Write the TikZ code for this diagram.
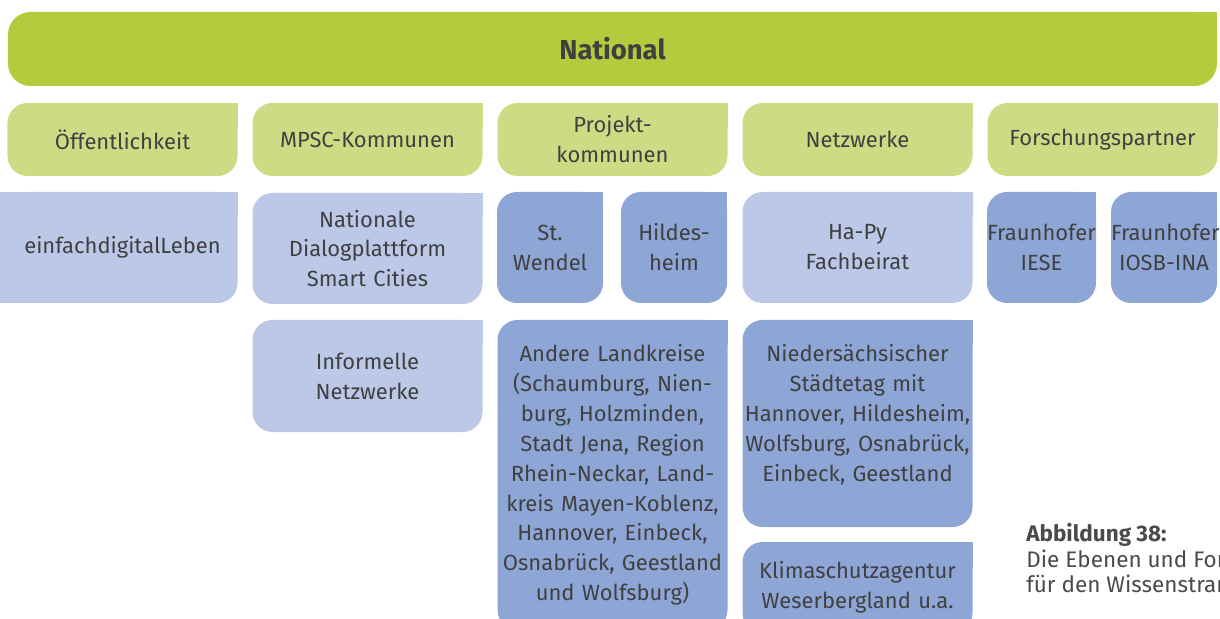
\documentclass[tikz,border=0pt]{standalone}
\usepackage{fontspec}
\setmainfont{Fira Sans}
\usetikzlibrary{positioning,backgrounds}
\definecolor{natgreen}{HTML}{B3CB3C}
\definecolor{lgreen}{HTML}{CCDC84}
\definecolor{lblue}{HTML}{BBC8E7}
\definecolor{dblue}{HTML}{8DA6D6}
\definecolor{txt}{HTML}{404040}
\definecolor{captxt}{HTML}{4A4A4A}

\begin{document}
\begin{tikzpicture}[
  x=0.2mm, y=-0.2mm,
  font=\fontsize{12.5}{17}\selectfont, text=txt,
  natbar/.style={fill=natgreen, rounded corners=4.5mm, minimum width=241.8mm, minimum height=14.8mm, inner sep=0pt, font=\bfseries\fontsize{15.6}{19}\selectfont},
  hbox/.style={fill=lgreen, rounded corners=4mm, minimum width=46mm, minimum height=14.6mm, text width=44mm, align=center, inner sep=0pt},
  lbox/.style={fill=lblue, rounded corners=4mm, minimum width=46mm, minimum height=22.2mm, text width=44mm, align=center, inner sep=0pt},
  dbox/.style={lbox, fill=dblue}
]
  \useasboundingbox (0,0) rectangle (1220,619);
  \clip (0,0) rectangle (1220,619);

  % TOP: National
  \node[natbar] (nat) at (612.5,49) {National};

  % ROW 1: Ebenen
  \node[hbox] (oeff) at (122.5,139.5) {Öffentlichkeit};
  \node[hbox] (mpsc) at (367.5,139.5) {MPSC-Kommunen};
  \node[hbox] (proj) at (612.5,139.5) {Projekt-\\kommunen};
  \node[hbox] (netz) at (857.5,139.5) {Netzwerke};
  \node[hbox] (forsch) at (1102.5,139.5) {Forschungspartner};

  % ROW 2
  \node[lbox] (einf) at (122.5,247.5) {einfachdigitalLeben};
  \node[lbox] (natdia) at (367.5,248.5) {Nationale\\Dialogplattform\\Smart Cities};
  \node[dbox, minimum width=21.2mm, text width=21.2mm] (wendel) at (550,247.5) {St.\\Wendel};
  \node[dbox, minimum width=21.2mm, text width=21.2mm] (hildes) at (674,247.5) {Hildes-\\heim};
  \node[lbox] (hapy) at (857.5,247.5) {Ha-Py\\Fachbeirat};
  \node[dbox, minimum width=21.8mm, text width=21.8mm] (iese) at (1041.5,247.5) {Fraunhofer\\IESE};
  \node[dbox, minimum width=21.2mm, text width=21.2mm] (ina) at (1164,247.5) {Fraunhofer\\IOSB-INA};

  % ROW 3
  \node[lbox, minimum height=22.4mm] (infnetz) at (367.5,376) {Informelle\\Netzwerke};
  \node[dbox, minimum height=62mm, text width=46mm] (andere) at (612.5,475) {Andere Landkreise\\(Schaumburg, Nien-\\burg, Holzminden,\\Stadt Jena, Region\\Rhein-Neckar, Land-\\kreis Mayen-Koblenz,\\Hannover, Einbeck,\\Osnabrück, Geestland\\und Wolfsburg)};
  \node[dbox, minimum height=41.4mm, text width=46mm] (nieders) at (857.5,423.5) {Niedersächsischer\\Städtetag mit\\Hannover, Hildesheim,\\Wolfsburg, Osnabrück,\\Einbeck, Geestland\par\vspace{10pt}};
  \node[dbox, minimum height=18.2mm] (klima) at (857.5,587.5) {Klimaschutzagentur\\Weserbergland u.a.};

  % square top right corners
  \begin{scope}[on background layer]
    \foreach \n/\c in {nat/natgreen, oeff/lgreen, mpsc/lgreen, proj/lgreen, netz/lgreen, forsch/lgreen,
        einf/lblue, natdia/lblue, wendel/dblue, hildes/dblue, hapy/lblue, iese/dblue, ina/dblue,
        infnetz/lblue, andere/dblue, nieders/dblue, klima/dblue}
      \fill[\c] (\n.north east) rectangle ++(-25,25);
    \fill[lblue] ([xshift=-2mm]einf.north west) rectangle ([xshift=5mm]einf.south west);
  \end{scope}

  % caption
  \node[anchor=north west, inner sep=0pt, align=left, text=captxt, font=\fontsize{12.8}{14.6}\selectfont] (cap) at (1026,523)
    {\textbf{Abbildung 38:}\\Die Ebenen und Formate\\für den Wissenstransfer};
\end{tikzpicture}
\end{document}
